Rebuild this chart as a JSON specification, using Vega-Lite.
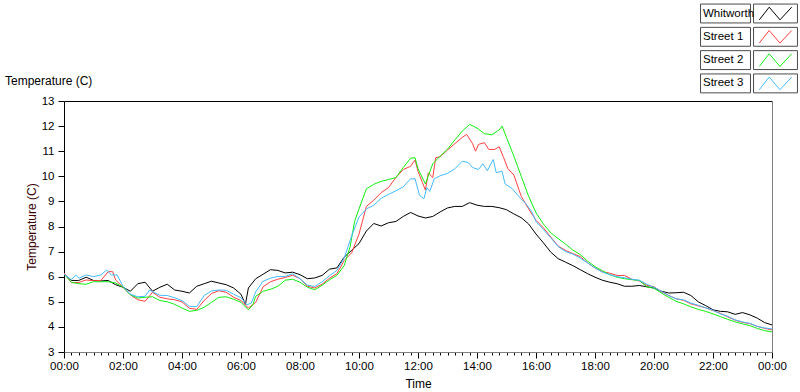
{
"$schema":"https://vega.github.io/schema/vega-lite/v6.json",
"width":708,"height":251,
"autosize":{"type":"none"},
"padding":{"left":64,"top":101,"right":28,"bottom":40},
"background":"white",
"config":{"view":{"stroke":null},"font":"Liberation Sans"},
"title":{"text":"Temperature (C)","anchor":"start","frame":"group","dx":-59,"dy":108,"offset":12,"fontSize":12,"fontWeight":"normal","color":"black","font":"Liberation Sans","baseline":"bottom"},
"layer":[
{"data":{"values":[
{"hour":0,"series":"Whitworth","temp":6.1},{"hour":0.25,"series":"Whitworth","temp":5.85},{"hour":0.5,"series":"Whitworth","temp":5.85},{"hour":0.75,"series":"Whitworth","temp":5.98},{"hour":1,"series":"Whitworth","temp":5.85},{"hour":1.25,"series":"Whitworth","temp":5.83},{"hour":1.5,"series":"Whitworth","temp":5.85},{"hour":1.75,"series":"Whitworth","temp":5.68},{"hour":2,"series":"Whitworth","temp":5.58},{"hour":2.25,"series":"Whitworth","temp":5.42},{"hour":2.5,"series":"Whitworth","temp":5.72},{"hour":2.75,"series":"Whitworth","temp":5.78},{"hour":3,"series":"Whitworth","temp":5.42},{"hour":3.25,"series":"Whitworth","temp":5.58},{"hour":3.5,"series":"Whitworth","temp":5.7},{"hour":3.75,"series":"Whitworth","temp":5.47},{"hour":4,"series":"Whitworth","temp":5.42},{"hour":4.25,"series":"Whitworth","temp":5.35},{"hour":4.5,"series":"Whitworth","temp":5.62},{"hour":4.75,"series":"Whitworth","temp":5.72},{"hour":5,"series":"Whitworth","temp":5.82},{"hour":5.25,"series":"Whitworth","temp":5.75},{"hour":5.5,"series":"Whitworth","temp":5.68},{"hour":5.75,"series":"Whitworth","temp":5.55},{"hour":6,"series":"Whitworth","temp":5.3},{"hour":6.15,"series":"Whitworth","temp":4.9},{"hour":6.25,"series":"Whitworth","temp":5.55},{"hour":6.5,"series":"Whitworth","temp":5.92},{"hour":6.75,"series":"Whitworth","temp":6.1},{"hour":7,"series":"Whitworth","temp":6.28},{"hour":7.25,"series":"Whitworth","temp":6.25},{"hour":7.5,"series":"Whitworth","temp":6.15},{"hour":7.75,"series":"Whitworth","temp":6.18},{"hour":8,"series":"Whitworth","temp":6.08},{"hour":8.25,"series":"Whitworth","temp":5.92},{"hour":8.5,"series":"Whitworth","temp":5.95},{"hour":8.75,"series":"Whitworth","temp":6.05},{"hour":9,"series":"Whitworth","temp":6.3},{"hour":9.25,"series":"Whitworth","temp":6.35},{"hour":9.5,"series":"Whitworth","temp":6.78},{"hour":9.75,"series":"Whitworth","temp":7.05},{"hour":10,"series":"Whitworth","temp":7.32},{"hour":10.25,"series":"Whitworth","temp":7.82},{"hour":10.5,"series":"Whitworth","temp":8.12},{"hour":10.75,"series":"Whitworth","temp":8.02},{"hour":11,"series":"Whitworth","temp":8.15},{"hour":11.25,"series":"Whitworth","temp":8.2},{"hour":11.5,"series":"Whitworth","temp":8.4},{"hour":11.75,"series":"Whitworth","temp":8.56},{"hour":12,"series":"Whitworth","temp":8.42},{"hour":12.25,"series":"Whitworth","temp":8.34},{"hour":12.5,"series":"Whitworth","temp":8.4},{"hour":12.75,"series":"Whitworth","temp":8.58},{"hour":13,"series":"Whitworth","temp":8.74},{"hour":13.25,"series":"Whitworth","temp":8.8},{"hour":13.5,"series":"Whitworth","temp":8.8},{"hour":13.75,"series":"Whitworth","temp":8.95},{"hour":14,"series":"Whitworth","temp":8.85},{"hour":14.25,"series":"Whitworth","temp":8.8},{"hour":14.5,"series":"Whitworth","temp":8.8},{"hour":14.75,"series":"Whitworth","temp":8.75},{"hour":15,"series":"Whitworth","temp":8.67},{"hour":15.25,"series":"Whitworth","temp":8.5},{"hour":15.5,"series":"Whitworth","temp":8.35},{"hour":15.75,"series":"Whitworth","temp":8.1},{"hour":16,"series":"Whitworth","temp":7.7},{"hour":16.25,"series":"Whitworth","temp":7.35},{"hour":16.5,"series":"Whitworth","temp":6.98},{"hour":16.75,"series":"Whitworth","temp":6.72},{"hour":17,"series":"Whitworth","temp":6.58},{"hour":17.25,"series":"Whitworth","temp":6.44},{"hour":17.5,"series":"Whitworth","temp":6.28},{"hour":17.75,"series":"Whitworth","temp":6.12},{"hour":18,"series":"Whitworth","temp":5.98},{"hour":18.25,"series":"Whitworth","temp":5.86},{"hour":18.5,"series":"Whitworth","temp":5.78},{"hour":18.75,"series":"Whitworth","temp":5.72},{"hour":19,"series":"Whitworth","temp":5.62},{"hour":19.25,"series":"Whitworth","temp":5.62},{"hour":19.5,"series":"Whitworth","temp":5.65},{"hour":19.75,"series":"Whitworth","temp":5.6},{"hour":20,"series":"Whitworth","temp":5.55},{"hour":20.25,"series":"Whitworth","temp":5.42},{"hour":20.5,"series":"Whitworth","temp":5.35},{"hour":20.75,"series":"Whitworth","temp":5.36},{"hour":21,"series":"Whitworth","temp":5.38},{"hour":21.25,"series":"Whitworth","temp":5.25},{"hour":21.5,"series":"Whitworth","temp":5.0},{"hour":21.75,"series":"Whitworth","temp":4.85},{"hour":22,"series":"Whitworth","temp":4.68},{"hour":22.25,"series":"Whitworth","temp":4.62},{"hour":22.5,"series":"Whitworth","temp":4.6},{"hour":22.75,"series":"Whitworth","temp":4.5},{"hour":23,"series":"Whitworth","temp":4.57},{"hour":23.25,"series":"Whitworth","temp":4.48},{"hour":23.5,"series":"Whitworth","temp":4.35},{"hour":23.75,"series":"Whitworth","temp":4.17},{"hour":24,"series":"Whitworth","temp":4.08},
{"hour":0,"series":"Street 1","temp":6.15},{"hour":0.25,"series":"Street 1","temp":5.76},{"hour":0.5,"series":"Street 1","temp":5.77},{"hour":0.75,"series":"Street 1","temp":5.87},{"hour":1,"series":"Street 1","temp":5.84},{"hour":1.25,"series":"Street 1","temp":5.85},{"hour":1.5,"series":"Street 1","temp":6.2},{"hour":1.65,"series":"Street 1","temp":6.2},{"hour":1.75,"series":"Street 1","temp":5.87},{"hour":2,"series":"Street 1","temp":5.58},{"hour":2.25,"series":"Street 1","temp":5.28},{"hour":2.5,"series":"Street 1","temp":5.08},{"hour":2.75,"series":"Street 1","temp":5.02},{"hour":3,"series":"Street 1","temp":5.38},{"hour":3.25,"series":"Street 1","temp":5.18},{"hour":3.5,"series":"Street 1","temp":5.12},{"hour":3.75,"series":"Street 1","temp":5.08},{"hour":4,"series":"Street 1","temp":5.0},{"hour":4.25,"series":"Street 1","temp":4.74},{"hour":4.5,"series":"Street 1","temp":4.7},{"hour":4.75,"series":"Street 1","temp":5.05},{"hour":5,"series":"Street 1","temp":5.33},{"hour":5.25,"series":"Street 1","temp":5.44},{"hour":5.5,"series":"Street 1","temp":5.38},{"hour":5.75,"series":"Street 1","temp":5.18},{"hour":6,"series":"Street 1","temp":5.05},{"hour":6.25,"series":"Street 1","temp":4.75},{"hour":6.5,"series":"Street 1","temp":4.98},{"hour":6.75,"series":"Street 1","temp":5.6},{"hour":7,"series":"Street 1","temp":5.8},{"hour":7.25,"series":"Street 1","temp":5.9},{"hour":7.5,"series":"Street 1","temp":5.97},{"hour":7.75,"series":"Street 1","temp":6.06},{"hour":8,"series":"Street 1","temp":5.92},{"hour":8.25,"series":"Street 1","temp":5.62},{"hour":8.5,"series":"Street 1","temp":5.55},{"hour":8.75,"series":"Street 1","temp":5.7},{"hour":9,"series":"Street 1","temp":5.94},{"hour":9.25,"series":"Street 1","temp":6.12},{"hour":9.5,"series":"Street 1","temp":6.65},{"hour":9.75,"series":"Street 1","temp":6.95},{"hour":10,"series":"Street 1","temp":7.7},{"hour":10.25,"series":"Street 1","temp":8.8},{"hour":10.5,"series":"Street 1","temp":9.05},{"hour":10.75,"series":"Street 1","temp":9.35},{"hour":11,"series":"Street 1","temp":9.55},{"hour":11.25,"series":"Street 1","temp":9.95},{"hour":11.5,"series":"Street 1","temp":10.27},{"hour":11.75,"series":"Street 1","temp":10.4},{"hour":11.9,"series":"Street 1","temp":10.65},{"hour":12,"series":"Street 1","temp":10.2},{"hour":12.15,"series":"Street 1","temp":9.75},{"hour":12.25,"series":"Street 1","temp":9.45},{"hour":12.35,"series":"Street 1","temp":10.14},{"hour":12.5,"series":"Street 1","temp":9.95},{"hour":12.6,"series":"Street 1","temp":10.74},{"hour":12.75,"series":"Street 1","temp":10.78},{"hour":13,"series":"Street 1","temp":11.05},{"hour":13.25,"series":"Street 1","temp":11.3},{"hour":13.5,"series":"Street 1","temp":11.55},{"hour":13.65,"series":"Street 1","temp":11.67},{"hour":13.85,"series":"Street 1","temp":11.3},{"hour":13.95,"series":"Street 1","temp":11.0},{"hour":14.05,"series":"Street 1","temp":11.27},{"hour":14.25,"series":"Street 1","temp":11.34},{"hour":14.4,"series":"Street 1","temp":11.07},{"hour":14.6,"series":"Street 1","temp":11.07},{"hour":14.75,"series":"Street 1","temp":11.18},{"hour":14.9,"series":"Street 1","temp":10.75},{"hour":15.05,"series":"Street 1","temp":10.3},{"hour":15.25,"series":"Street 1","temp":10.05},{"hour":15.5,"series":"Street 1","temp":9.2},{"hour":15.75,"series":"Street 1","temp":8.7},{"hour":16,"series":"Street 1","temp":8.25},{"hour":16.25,"series":"Street 1","temp":7.95},{"hour":16.5,"series":"Street 1","temp":7.58},{"hour":16.75,"series":"Street 1","temp":7.22},{"hour":17,"series":"Street 1","temp":7.05},{"hour":17.25,"series":"Street 1","temp":6.92},{"hour":17.5,"series":"Street 1","temp":6.8},{"hour":17.75,"series":"Street 1","temp":6.55},{"hour":18,"series":"Street 1","temp":6.35},{"hour":18.25,"series":"Street 1","temp":6.2},{"hour":18.5,"series":"Street 1","temp":6.14},{"hour":18.75,"series":"Street 1","temp":6.05},{"hour":19,"series":"Street 1","temp":6.05},{"hour":19.25,"series":"Street 1","temp":5.9},{"hour":19.5,"series":"Street 1","temp":5.83},{"hour":19.75,"series":"Street 1","temp":5.66},{"hour":20,"series":"Street 1","temp":5.6},{"hour":20.25,"series":"Street 1","temp":5.4},{"hour":20.5,"series":"Street 1","temp":5.25},{"hour":20.75,"series":"Street 1","temp":5.12},{"hour":21,"series":"Street 1","temp":5.06},{"hour":21.25,"series":"Street 1","temp":4.92},{"hour":21.5,"series":"Street 1","temp":4.84},{"hour":21.75,"series":"Street 1","temp":4.76},{"hour":22,"series":"Street 1","temp":4.65},{"hour":22.25,"series":"Street 1","temp":4.54},{"hour":22.5,"series":"Street 1","temp":4.4},{"hour":22.75,"series":"Street 1","temp":4.27},{"hour":23,"series":"Street 1","temp":4.18},{"hour":23.25,"series":"Street 1","temp":4.13},{"hour":23.5,"series":"Street 1","temp":4.02},{"hour":23.75,"series":"Street 1","temp":3.94},{"hour":24,"series":"Street 1","temp":3.88},
{"hour":0,"series":"Street 2","temp":6.1},{"hour":0.25,"series":"Street 2","temp":5.78},{"hour":0.5,"series":"Street 2","temp":5.72},{"hour":0.75,"series":"Street 2","temp":5.7},{"hour":1,"series":"Street 2","temp":5.8},{"hour":1.25,"series":"Street 2","temp":5.8},{"hour":1.5,"series":"Street 2","temp":5.8},{"hour":1.75,"series":"Street 2","temp":5.75},{"hour":2,"series":"Street 2","temp":5.58},{"hour":2.25,"series":"Street 2","temp":5.28},{"hour":2.5,"series":"Street 2","temp":5.15},{"hour":2.75,"series":"Street 2","temp":5.18},{"hour":3,"series":"Street 2","temp":5.2},{"hour":3.25,"series":"Street 2","temp":5.05},{"hour":3.5,"series":"Street 2","temp":5.0},{"hour":3.75,"series":"Street 2","temp":4.9},{"hour":4,"series":"Street 2","temp":4.75},{"hour":4.25,"series":"Street 2","temp":4.62},{"hour":4.5,"series":"Street 2","temp":4.66},{"hour":4.75,"series":"Street 2","temp":4.78},{"hour":5,"series":"Street 2","temp":4.98},{"hour":5.25,"series":"Street 2","temp":5.18},{"hour":5.5,"series":"Street 2","temp":5.2},{"hour":5.75,"series":"Street 2","temp":5.1},{"hour":6,"series":"Street 2","temp":4.98},{"hour":6.25,"series":"Street 2","temp":4.68},{"hour":6.4,"series":"Street 2","temp":4.88},{"hour":6.5,"series":"Street 2","temp":5.22},{"hour":6.75,"series":"Street 2","temp":5.42},{"hour":7,"series":"Street 2","temp":5.5},{"hour":7.25,"series":"Street 2","temp":5.62},{"hour":7.5,"series":"Street 2","temp":5.86},{"hour":7.75,"series":"Street 2","temp":5.9},{"hour":8,"series":"Street 2","temp":5.78},{"hour":8.25,"series":"Street 2","temp":5.58},{"hour":8.5,"series":"Street 2","temp":5.48},{"hour":8.75,"series":"Street 2","temp":5.66},{"hour":9,"series":"Street 2","temp":5.88},{"hour":9.25,"series":"Street 2","temp":6.05},{"hour":9.5,"series":"Street 2","temp":6.45},{"hour":9.7,"series":"Street 2","temp":7.2},{"hour":9.85,"series":"Street 2","temp":8.2},{"hour":10,"series":"Street 2","temp":8.7},{"hour":10.25,"series":"Street 2","temp":9.5},{"hour":10.5,"series":"Street 2","temp":9.68},{"hour":10.75,"series":"Street 2","temp":9.8},{"hour":11,"series":"Street 2","temp":9.87},{"hour":11.25,"series":"Street 2","temp":9.95},{"hour":11.5,"series":"Street 2","temp":10.35},{"hour":11.75,"series":"Street 2","temp":10.72},{"hour":11.9,"series":"Street 2","temp":10.74},{"hour":12,"series":"Street 2","temp":10.3},{"hour":12.25,"series":"Street 2","temp":9.7},{"hour":12.5,"series":"Street 2","temp":10.5},{"hour":12.75,"series":"Street 2","temp":10.8},{"hour":13,"series":"Street 2","temp":11.08},{"hour":13.25,"series":"Street 2","temp":11.45},{"hour":13.5,"series":"Street 2","temp":11.8},{"hour":13.75,"series":"Street 2","temp":12.07},{"hour":14,"series":"Street 2","temp":11.92},{"hour":14.25,"series":"Street 2","temp":11.7},{"hour":14.5,"series":"Street 2","temp":11.65},{"hour":14.75,"series":"Street 2","temp":11.85},{"hour":14.85,"series":"Street 2","temp":12.0},{"hour":15,"series":"Street 2","temp":11.55},{"hour":15.25,"series":"Street 2","temp":10.8},{"hour":15.5,"series":"Street 2","temp":10.0},{"hour":15.75,"series":"Street 2","temp":9.2},{"hour":16,"series":"Street 2","temp":8.55},{"hour":16.25,"series":"Street 2","temp":8.1},{"hour":16.5,"series":"Street 2","temp":7.75},{"hour":16.75,"series":"Street 2","temp":7.52},{"hour":17,"series":"Street 2","temp":7.3},{"hour":17.25,"series":"Street 2","temp":7.06},{"hour":17.5,"series":"Street 2","temp":6.88},{"hour":17.75,"series":"Street 2","temp":6.62},{"hour":18,"series":"Street 2","temp":6.4},{"hour":18.25,"series":"Street 2","temp":6.24},{"hour":18.5,"series":"Street 2","temp":6.08},{"hour":18.75,"series":"Street 2","temp":5.98},{"hour":19,"series":"Street 2","temp":5.92},{"hour":19.25,"series":"Street 2","temp":5.88},{"hour":19.5,"series":"Street 2","temp":5.85},{"hour":19.75,"series":"Street 2","temp":5.6},{"hour":20,"series":"Street 2","temp":5.54},{"hour":20.25,"series":"Street 2","temp":5.35},{"hour":20.5,"series":"Street 2","temp":5.18},{"hour":20.75,"series":"Street 2","temp":5.02},{"hour":21,"series":"Street 2","temp":4.92},{"hour":21.25,"series":"Street 2","temp":4.8},{"hour":21.5,"series":"Street 2","temp":4.7},{"hour":21.75,"series":"Street 2","temp":4.62},{"hour":22,"series":"Street 2","temp":4.52},{"hour":22.25,"series":"Street 2","temp":4.41},{"hour":22.5,"series":"Street 2","temp":4.3},{"hour":22.75,"series":"Street 2","temp":4.2},{"hour":23,"series":"Street 2","temp":4.12},{"hour":23.25,"series":"Street 2","temp":4.05},{"hour":23.5,"series":"Street 2","temp":3.94},{"hour":23.75,"series":"Street 2","temp":3.85},{"hour":24,"series":"Street 2","temp":3.8},
{"hour":0,"series":"Street 3","temp":6.1},{"hour":0.25,"series":"Street 3","temp":5.88},{"hour":0.4,"series":"Street 3","temp":6.07},{"hour":0.5,"series":"Street 3","temp":5.94},{"hour":0.75,"series":"Street 3","temp":6.07},{"hour":1,"series":"Street 3","temp":6.0},{"hour":1.25,"series":"Street 3","temp":6.07},{"hour":1.45,"series":"Street 3","temp":6.27},{"hour":1.6,"series":"Street 3","temp":6.07},{"hour":1.8,"series":"Street 3","temp":6.07},{"hour":2,"series":"Street 3","temp":5.62},{"hour":2.25,"series":"Street 3","temp":5.3},{"hour":2.5,"series":"Street 3","temp":5.2},{"hour":2.75,"series":"Street 3","temp":5.22},{"hour":2.9,"series":"Street 3","temp":5.47},{"hour":3,"series":"Street 3","temp":5.4},{"hour":3.25,"series":"Street 3","temp":5.26},{"hour":3.5,"series":"Street 3","temp":5.25},{"hour":3.75,"series":"Street 3","temp":5.16},{"hour":4,"series":"Street 3","temp":5.05},{"hour":4.25,"series":"Street 3","temp":4.82},{"hour":4.5,"series":"Street 3","temp":4.81},{"hour":4.75,"series":"Street 3","temp":5.25},{"hour":5,"series":"Street 3","temp":5.43},{"hour":5.25,"series":"Street 3","temp":5.47},{"hour":5.5,"series":"Street 3","temp":5.46},{"hour":5.75,"series":"Street 3","temp":5.3},{"hour":6,"series":"Street 3","temp":5.16},{"hour":6.2,"series":"Street 3","temp":4.88},{"hour":6.35,"series":"Street 3","temp":4.95},{"hour":6.5,"series":"Street 3","temp":5.4},{"hour":6.75,"series":"Street 3","temp":5.82},{"hour":7,"series":"Street 3","temp":5.94},{"hour":7.25,"series":"Street 3","temp":6.01},{"hour":7.5,"series":"Street 3","temp":6.01},{"hour":7.75,"series":"Street 3","temp":6.12},{"hour":8,"series":"Street 3","temp":5.92},{"hour":8.25,"series":"Street 3","temp":5.66},{"hour":8.5,"series":"Street 3","temp":5.61},{"hour":8.75,"series":"Street 3","temp":5.8},{"hour":9,"series":"Street 3","temp":6.04},{"hour":9.25,"series":"Street 3","temp":6.25},{"hour":9.5,"series":"Street 3","temp":6.75},{"hour":9.75,"series":"Street 3","temp":7.62},{"hour":10,"series":"Street 3","temp":8.38},{"hour":10.25,"series":"Street 3","temp":8.7},{"hour":10.5,"series":"Street 3","temp":8.85},{"hour":10.75,"series":"Street 3","temp":9.12},{"hour":11,"series":"Street 3","temp":9.28},{"hour":11.25,"series":"Street 3","temp":9.42},{"hour":11.5,"series":"Street 3","temp":9.58},{"hour":11.75,"series":"Street 3","temp":9.9},{"hour":11.9,"series":"Street 3","temp":9.9},{"hour":12.05,"series":"Street 3","temp":9.25},{"hour":12.2,"series":"Street 3","temp":9.1},{"hour":12.3,"series":"Street 3","temp":9.55},{"hour":12.4,"series":"Street 3","temp":9.4},{"hour":12.55,"series":"Street 3","temp":9.9},{"hour":12.75,"series":"Street 3","temp":10.02},{"hour":13,"series":"Street 3","temp":10.12},{"hour":13.25,"series":"Street 3","temp":10.3},{"hour":13.5,"series":"Street 3","temp":10.6},{"hour":13.7,"series":"Street 3","temp":10.55},{"hour":13.85,"series":"Street 3","temp":10.35},{"hour":14.05,"series":"Street 3","temp":10.27},{"hour":14.2,"series":"Street 3","temp":10.5},{"hour":14.35,"series":"Street 3","temp":10.22},{"hour":14.55,"series":"Street 3","temp":10.67},{"hour":14.65,"series":"Street 3","temp":10.15},{"hour":14.85,"series":"Street 3","temp":10.2},{"hour":14.95,"series":"Street 3","temp":9.7},{"hour":15.2,"series":"Street 3","temp":9.5},{"hour":15.45,"series":"Street 3","temp":9.15},{"hour":15.65,"series":"Street 3","temp":8.92},{"hour":15.85,"series":"Street 3","temp":8.6},{"hour":16,"series":"Street 3","temp":8.2},{"hour":16.25,"series":"Street 3","temp":7.88},{"hour":16.5,"series":"Street 3","temp":7.55},{"hour":16.75,"series":"Street 3","temp":7.2},{"hour":17,"series":"Street 3","temp":7.0},{"hour":17.25,"series":"Street 3","temp":6.9},{"hour":17.5,"series":"Street 3","temp":6.74},{"hour":17.75,"series":"Street 3","temp":6.55},{"hour":18,"series":"Street 3","temp":6.35},{"hour":18.25,"series":"Street 3","temp":6.18},{"hour":18.5,"series":"Street 3","temp":6.08},{"hour":18.75,"series":"Street 3","temp":6.0},{"hour":19,"series":"Street 3","temp":5.96},{"hour":19.25,"series":"Street 3","temp":5.9},{"hour":19.5,"series":"Street 3","temp":5.86},{"hour":19.75,"series":"Street 3","temp":5.7},{"hour":20,"series":"Street 3","temp":5.58},{"hour":20.25,"series":"Street 3","temp":5.42},{"hour":20.5,"series":"Street 3","temp":5.25},{"hour":20.75,"series":"Street 3","temp":5.12},{"hour":21,"series":"Street 3","temp":5.08},{"hour":21.25,"series":"Street 3","temp":4.95},{"hour":21.5,"series":"Street 3","temp":4.86},{"hour":21.75,"series":"Street 3","temp":4.76},{"hour":22,"series":"Street 3","temp":4.66},{"hour":22.25,"series":"Street 3","temp":4.52},{"hour":22.5,"series":"Street 3","temp":4.42},{"hour":22.75,"series":"Street 3","temp":4.28},{"hour":23,"series":"Street 3","temp":4.2},{"hour":23.25,"series":"Street 3","temp":4.14},{"hour":23.5,"series":"Street 3","temp":4.02},{"hour":23.75,"series":"Street 3","temp":3.96},{"hour":24,"series":"Street 3","temp":3.92}
]},
"mark":{"type":"line","strokeWidth":1,"clip":true},
"encoding":{
"x":{"field":"hour","type":"quantitative","scale":{"domain":[0,24],"nice":false,"zero":false},
 "axis":{"title":"Time","titleFontSize":12,"titleFontWeight":"normal","titleColor":"black","titlePadding":7,
 "values":[0,0.25,0.5,0.75,1,1.25,1.5,1.75,2,2.25,2.5,2.75,3,3.25,3.5,3.75,4,4.25,4.5,4.75,5,5.25,5.5,5.75,6,6.25,6.5,6.75,7,7.25,7.5,7.75,8,8.25,8.5,8.75,9,9.25,9.5,9.75,10,10.25,10.5,10.75,11,11.25,11.5,11.75,12,12.25,12.5,12.75,13,13.25,13.5,13.75,14,14.25,14.5,14.75,15,15.25,15.5,15.75,16,16.25,16.5,16.75,17,17.25,17.5,17.75,18,18.25,18.5,18.75,19,19.25,19.5,19.75,20,20.25,20.5,20.75,21,21.25,21.5,21.75,22,22.25,22.5,22.75,23,23.25,23.5,23.75,24],
 "labelExpr":"datum.value % 2 === 0 ? ((datum.value % 24) < 10 ? '0' : '') + (datum.value % 24) + ':00' : ''",
 "tickSize":{"condition":{"test":"datum.value % 2 === 0","value":6},"value":3},
 "tickColor":"black","domainColor":"#808080","labelFontSize":11.5,"labelColor":"black","labelPadding":2,
 "labelOverlap":false,"labelFlush":false,"labelBound":false,"grid":false}},
"y":{"field":"temp","type":"quantitative","scale":{"domain":[3,13],"nice":false,"zero":false},
 "axis":{"title":"Temperature (C)","titleFontSize":12,"titleFontWeight":"normal","titleColor":"#3a0000","titlePadding":3,
 "values":[3,4,5,6,7,8,9,10,11,12,13],"tickSize":6,"tickColor":"black","domainColor":"black","labelFontSize":11.5,"labelColor":"black","labelPadding":4,"grid":false}},
"color":{"field":"series","type":"nominal","scale":{"domain":["Whitworth","Street 1","Street 2","Street 3"],"range":["#000000","#ff4040","#11ee11","#44bbff"]},
 "legend":{"orient":"none","legendX":702,"legendY":-97,"title":null,"padding":0,
 "symbolType":"M-8.33,-1.05M2.44,1.05M-1.8,0.7L-0.7,-0.7L0.5,0.7L1.8,-0.7",
 "symbolSize":324,"symbolStrokeWidth":1,"symbolFillColor":"transparent",
 "labelFont":"Liberation Sans","labelFontSize":11.5,"labelColor":"black","rowPadding":0.3,"zindex":2,
 "encode":{"labels":{"update":{"x":{"value":-63},"align":{"value":"left"}}}}}}
}},
{"data":{"values":[{"series":"Whitworth"},{"series":"Street 1"},{"series":"Street 2"},{"series":"Street 3"}]},
"mark":{"type":"point","size":0,"color":"black","filled":false},
"encoding":{
"x":{"datum":12,"type":"quantitative","axis":{"orient":"top","labels":false,"ticks":false,"title":null,"domainColor":"black","grid":false}},
"y":{"datum":8,"type":"quantitative","axis":{"orient":"right","labels":false,"ticks":false,"title":null,"domainColor":"#808080","grid":false}},
"shape":{"field":"series","type":"nominal","scale":{"range":["M-8.33,-1.05H-2.78V1.05H-8.33ZM-2.44,-1.05H2.44V1.05H-2.44Z"]},
 "legend":{"orient":"none","legendX":702,"legendY":-97,"title":null,"padding":0,"symbolSize":324,"symbolStrokeColor":"black","symbolStrokeWidth":1,"symbolFillColor":"transparent","labelExpr":"''","rowPadding":0.3,"zindex":1}}
}}
],
"resolve":{"axis":{"x":"independent","y":"independent"}}
}
